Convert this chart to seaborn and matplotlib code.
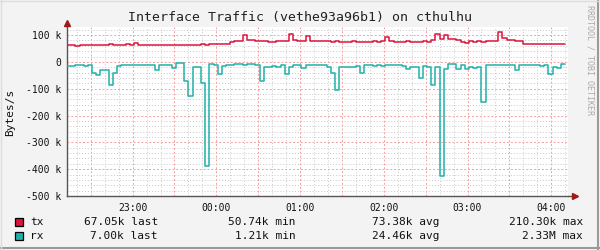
import numpy as np
import pandas as pd
import matplotlib
matplotlib.use("Agg")
import matplotlib.pyplot as plt
import matplotlib.dates as mdates
from matplotlib.ticker import MultipleLocator, FuncFormatter
from matplotlib.patches import Rectangle
from matplotlib.lines import Line2D
import seaborn as sns

# ---------------- data ----------------
start_time = "2024-01-01 22:13"
step_minutes = 3

tx_k = [62, 63, 60, 63, 62, 64, 63, 63, 64, 63,
        65, 64, 63, 63, 66, 63, 69, 64, 63, 63,
        63, 63, 64, 63, 63, 62, 64, 63, 63, 64,
        63, 63, 65, 64, 65, 66, 66, 66, 67, 75,
        77, 77, 100, 82, 80, 78, 78, 78, 75, 75,
        78, 77, 77, 103, 82, 78, 76, 98, 78, 78,
        77, 76, 77, 75, 76, 75, 75, 75, 76, 74,
        75, 75, 75, 76, 75, 78, 92, 76, 75, 75,
        75, 76, 74, 75, 75, 76, 75, 80, 105, 86,
        102, 85, 84, 80, 74, 70, 76, 75, 76, 75,
        76, 76, 78, 110, 90, 80, 80, 79, 78, 68,
        66, 66, 67, 66, 68, 65, 67, 66, 68, 67]

rx_k = [-17, -17, -13, -12, -14, -10, -40, -50, -32, -30,
        -85, -40, -15, -12, -10, -10, -12, -12, -12, -12,
        -13, -30, -12, -12, -12, -22, -6, -6, -70, -128,
        -20, -18, -78, -390, -8, -10, -45, -15, -12, -12,
        -8, -8, -10, -8, -8, -10, -70, -20, -18, -15,
        -18, -12, -45, -20, -12, -12, -22, -12, -12, -12,
        -12, -12, -20, -40, -104, -20, -20, -20, -20, -15,
        -42, -12, -12, -14, -12, -14, -12, -10, -12, -12,
        -16, -28, -20, -20, -60, -15, -18, -88, -20, -425,
        -25, -8, -8, -25, -12, -28, -20, -22, -20, -150,
        -12, -10, -10, -12, -10, -12, -10, -30, -12, -12,
        -10, -12, -12, -14, -10, -45, -20, -22, -8, -7]

series_names = ["tx", "rx"]
series_colors = ["#DC143C", "#20B2AA"]
legend_last = ["67.05k", "7.00k"]
legend_min = ["50.74k", "1.21k"]
legend_avg = ["73.38k", "24.46k"]
legend_max = ["210.30k", "2.33M"]
title = "Interface Traffic (vethe93a96b1) on cthulhu"
y_label = "Bytes/s"
watermark = "RRDTOOL / TOBI OETIKER"

# ---------------- frame ----------------
times = pd.date_range(start_time, periods=len(tx_k), freq=f"{step_minutes}min")
df = pd.DataFrame({"time": times,
                   "tx": np.array(tx_k) * 1000.0,
                   "rx": np.array(rx_k) * 1000.0})

sns.set_theme(style="white")
plt.rcParams["font.family"] = ["DejaVu Sans Mono"]

W, H = 600, 250
fig = plt.figure(figsize=(6, 2.5), dpi=100, facecolor="#F3F3F3")
ax = fig.add_axes([67 / W, 54 / H, 501 / W, 169 / H])
ax.set_facecolor("white")

for name, col in zip(series_names, series_colors):
    sns.lineplot(data=df, x="time", y=name, ax=ax, color=col,
                 drawstyle="steps-post", linewidth=1.1, zorder=3)

ax.set_xlim(times[0], times[0] + pd.Timedelta(minutes=359))
ax.set_ylim(-500000, 130000)
ax.set_xlabel("")
ax.set_ylabel("")

# x ticks / grid
ax.xaxis.set_major_locator(mdates.MinuteLocator(byminute=[0, 30]))
ax.xaxis.set_minor_locator(mdates.MinuteLocator(byminute=[10, 20, 40, 50]))


def xfmt(v, pos):
    d = mdates.num2date(v)
    return d.strftime("%H:%M") if d.minute == 0 else ""


ax.xaxis.set_major_formatter(FuncFormatter(xfmt))

# y ticks / grid
ax.yaxis.set_major_locator(MultipleLocator(100000))
ax.yaxis.set_minor_locator(MultipleLocator(20000))


def yfmt(v, pos):
    k = int(round(v / 1000))
    return "0" if k == 0 else f"{k} k"


ax.yaxis.set_major_formatter(FuncFormatter(yfmt))

ax.grid(which="major", color="#F4A0A0", linestyle=(0, (2, 2)), linewidth=0.7, zorder=1)
ax.grid(which="minor", color="#C8C8C8", linestyle=(0, (1, 2)), linewidth=0.7, zorder=1)
ax.set_axisbelow(True)

ax.tick_params(axis="both", which="major", direction="inout", length=4,
               width=0.8, color="#444444", labelsize=7, labelcolor="#111111", pad=2)
ax.tick_params(axis="both", which="minor", length=0)
ax.tick_params(axis="x", which="major", pad=3)

for s in ["top", "right"]:
    ax.spines[s].set_visible(False)
for s in ["left", "bottom"]:
    ax.spines[s].set_color("#555555")
    ax.spines[s].set_linewidth(1.0)

# axis arrows
ax.add_line(Line2D([0, 0], [1, 1.02], transform=ax.transAxes, color="#555555",
                   lw=1.0, clip_on=False))
ax.add_line(Line2D([1, 1.012], [0, 0], transform=ax.transAxes, color="#555555",
                   lw=1.0, clip_on=False))
ax.plot([0], [1.025], marker="^", markersize=4.5, color="#A01818",
        transform=ax.transAxes, clip_on=False)
ax.plot([1.014], [0], marker=">", markersize=4.5, color="#A01818",
        transform=ax.transAxes, clip_on=False)

# texts
fig.text(0.5, 1 - 18 / H, title, ha="center", va="center", fontsize=9.5, color="#222222")
fig.text(10 / W, 1 - 112 / H, y_label, rotation=90, ha="center", va="center",
         fontsize=8, color="#111111")
fig.text(590 / W, 1 - 60 / H, watermark, rotation=270, ha="center", va="center",
         fontsize=6, color="#AAAAAA")

# legend
row_y = [222, 236]
for i, (name, col) in enumerate(zip(series_names, series_colors)):
    yc = row_y[i]
    fig.patches.append(Rectangle((15 / W, 1 - (yc + 4) / H), 8 / W, 8 / H,
                                 transform=fig.transFigure, facecolor=col,
                                 edgecolor="black", linewidth=0.9))
    yy = 1 - yc / H
    fig.text(30 / W, yy, name, ha="left", va="center", fontsize=8, color="#111111")
    fig.text(158 / W, yy, f"{legend_last[i]} last", ha="right", va="center", fontsize=8, color="#111111")
    fig.text(296 / W, yy, f"{legend_min[i]} min", ha="right", va="center", fontsize=8, color="#111111")
    fig.text(440 / W, yy, f"{legend_avg[i]} avg", ha="right", va="center", fontsize=8, color="#111111")
    fig.text(583 / W, yy, f"{legend_max[i]} max", ha="right", va="center", fontsize=8, color="#111111")

# canvas frame
fig.add_artist(Line2D([0, 1], [1 - 248 / H, 1 - 248 / H], transform=fig.transFigure,
                      color="#9A9A9A", lw=1.5))
fig.add_artist(Line2D([598 / W, 598 / W], [0, 1], transform=fig.transFigure,
                      color="#9A9A9A", lw=1.5))
fig.add_artist(Line2D([0, 1], [1 - 0.5 / H, 1 - 0.5 / H], transform=fig.transFigure,
                      color="#DDDDDD", lw=1.0))
fig.add_artist(Line2D([0.5 / W, 0.5 / W], [0, 1], transform=fig.transFigure,
                      color="#DDDDDD", lw=1.0))

fig.savefig("out.png", dpi=100, facecolor=fig.get_facecolor())
